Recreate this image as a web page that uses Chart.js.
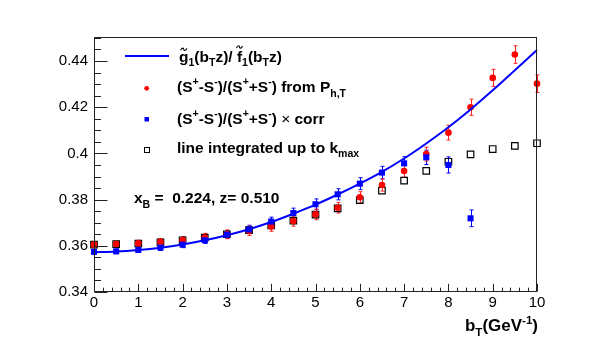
<!DOCTYPE html>
<html>
<head>
<meta charset="utf-8">
<script src="https://cdn.jsdelivr.net/npm/chart.js@4/dist/chart.umd.min.js"></script>
<style>
  body { margin: 0; background: #fff; }
  canvas { display: block; }
</style>
</head>
<body>
<canvas id="grafico" width="602" height="346"></canvas>
<script>
// valores
const bT = [0, 0.5, 1, 1.5, 2, 2.5, 3, 3.5, 4, 4.5, 5, 5.5, 6, 6.5, 7, 7.5, 8, 8.5, 9, 9.5, 10];
const curva = [0.3572, 0.3575, 0.3582, 0.3592, 0.3606, 0.3624, 0.3646, 0.3672, 0.3703, 0.3739, 0.3778,
               0.3822, 0.3869, 0.3920, 0.3978, 0.4043, 0.4113, 0.4190, 0.4273, 0.4360, 0.4448];
const fromPhT = [0.3605, 0.3608, 0.3611, 0.3617, 0.3624, 0.3636, 0.3650, 0.3665, 0.3684, 0.3707, 0.3736,
                 0.3765, 0.3810, 0.3863, 0.3924, 0.3997, 0.4090, 0.4200, 0.4327, 0.4428, 0.4302];
const fromPhTErr = [0.0011, 0.0012, 0.0013, 0.0014, 0.0016, 0.0018, 0.0019, 0.0020, 0.0021, 0.0022, 0.0023,
                    0.0023, 0.0024, 0.0026, 0.0027, 0.0030, 0.0032, 0.0035, 0.0037, 0.0038, 0.0038];
const bTcorr = [0, 0.5, 1, 1.5, 2, 2.5, 3, 3.5, 4, 4.5, 5, 5.5, 6, 6.5, 7, 7.5, 8, 8.5];
const corr = [0.3574, 0.3576, 0.3582, 0.3592, 0.3605, 0.3624, 0.3648, 0.3671, 0.3705, 0.3742, 0.3780,
              0.3823, 0.3869, 0.3917, 0.3957, 0.3983, 0.3950, 0.3719];
const corrErr = [0.0010, 0.0010, 0.0011, 0.0012, 0.0013, 0.0014, 0.0016, 0.0018, 0.0019, 0.0021, 0.0023,
                 0.0024, 0.0026, 0.0027, 0.0029, 0.0031, 0.0035, 0.0036];
const lineInt = [0.3605, 0.3607, 0.3610, 0.3615, 0.3624, 0.3635, 0.3650, 0.3668, 0.3688, 0.3709, 0.3735,
                 0.3762, 0.3798, 0.3839, 0.3882, 0.3924, 0.3964, 0.3996, 0.4019, 0.4033, 0.4044];
const xTicks = [0, 1, 2, 3, 4, 5, 6, 7, 8, 9, 10];
const yTicks = [0.34, 0.36, 0.38, 0.4, 0.42, 0.44];

const FONTE = '"Liberation Sans", Arial, sans-serif';

function pares(xs, ys) {
    return xs.map((x, i) => ({ x: x, y: ys[i] }));
}

// texto com indices (estilo ROOT)
function desenhaTexto(ctx, x, y, partes, tam, alinhar) {
    const medir = (p) => {
        const t = p[1] === 'sub' || p[1] === 'sup' ? tam * 0.68 : tam;
        const peso = p[1] === 'leve' ? '' : 'bold ';
        ctx.font = peso + t + 'px ' + FONTE;
        return ctx.measureText(p[0]).width;
    };
    let total = 0;
    partes.forEach(p => total += medir(p));
    if (alinhar === 'right') x -= total;
    ctx.fillStyle = '#000';
    ctx.textBaseline = 'alphabetic';
    ctx.textAlign = 'left';
    partes.forEach(p => {
        const w = medir(p);
        let dy = 0;
        if (p[1] === 'sub') dy = tam * 0.3;
        if (p[1] === 'sup') dy = -tam * 0.42;
        ctx.fillText(p[0], x, y + dy);
        if (p[1] === 'til' || p[1] === 'tilalto') {
            const cx = x + w / 2;
            const cy = y - tam * (p[1] === 'tilalto' ? 0.95 : 0.8);
            const a = tam * 0.2;
            ctx.save();
            ctx.strokeStyle = '#000';
            ctx.lineWidth = 1.1;
            ctx.beginPath();
            ctx.moveTo(cx - a, cy + 1);
            ctx.bezierCurveTo(cx - a / 2, cy - 2.5, cx, cy - 1, cx, cy);
            ctx.bezierCurveTo(cx, cy + 1, cx + a / 2, cy + 2.5, cx + a, cy - 1);
            ctx.stroke();
            ctx.restore();
        }
        x += w;
    });
}

const errorBars = {
    id: 'errorBars',
    beforeDatasetsDraw(chart) {
        const { ctx, scales: { x, y } } = chart;
        chart.data.datasets.forEach(ds => {
            if (!ds.erros) return;
            ctx.save();
            ctx.strokeStyle = ds.corErro;
            ctx.lineWidth = 1;
            ds.data.forEach((p, i) => {
                const px = Math.round(x.getPixelForValue(p.x)) + 0.5;
                const cima = y.getPixelForValue(p.y + ds.erros[i]);
                const baixo = y.getPixelForValue(p.y - ds.erros[i]);
                ctx.beginPath();
                ctx.moveTo(px, cima);
                ctx.lineTo(px, baixo);
                ctx.moveTo(px - 2, cima);
                ctx.lineTo(px + 2, cima);
                ctx.moveTo(px - 2, baixo);
                ctx.lineTo(px + 2, baixo);
                ctx.stroke();
            });
            ctx.restore();
        });
    }
};

const moldura = {
    id: 'moldura',
    afterDraw(chart) {
        const { ctx, chartArea: a, scales: { x, y } } = chart;
        ctx.save();
        ctx.strokeStyle = '#222';
        ctx.lineWidth = 1;
        const l = Math.round(a.left) + 0.5, r = Math.round(a.right) - 0.5;
        const t = Math.round(a.top) + 0.5, b = Math.round(a.bottom) - 0.5;
        ctx.strokeRect(l, t, r - l, b - t);
        ctx.beginPath();
        // marcas do eixo y, para dentro
        for (let k = 0; k <= 22; k++) {
            const v = 0.34 + k * 0.005;
            const py = Math.round(y.getPixelForValue(v)) + 0.5;
            const maior = k % 4 === 0;
            ctx.moveTo(l, py);
            ctx.lineTo(l + (maior ? 13 : 6.5), py);
        }
        // marcas do eixo x, para dentro
        for (let k = 0; k <= 50; k++) {
            const v = k * 0.2;
            const px = Math.round(x.getPixelForValue(v)) + 0.5;
            const maior = k % 5 === 0;
            ctx.moveTo(px, b);
            ctx.lineTo(px, b - (maior ? 7.7 : 3.8));
        }
        ctx.stroke();
        ctx.restore();

        // legenda
        ctx.save();
        ctx.strokeStyle = '#0000ff';
        ctx.lineWidth = 2;
        ctx.beginPath();
        ctx.moveTo(125, 56);
        ctx.lineTo(169, 56);
        ctx.stroke();
        ctx.fillStyle = '#ff0000';
        ctx.beginPath();
        ctx.arc(146.7, 88.3, 2.4, 0, Math.PI * 2);
        ctx.fill();
        ctx.fillStyle = '#0000ff';
        ctx.fillRect(144.5, 117, 4.5, 4.5);
        ctx.strokeStyle = '#000';
        ctx.lineWidth = 1;
        ctx.strokeRect(144.5, 147.5, 5, 5);
        ctx.restore();

        const T = 15.5;
        desenhaTexto(ctx, 179, 61.7, [['g', 'til'], ['1', 'sub'], ['(b', ''], ['T', 'sub'], ['z)/ ', ''],
            ['f', 'tilalto'], ['1', 'sub'], ['(b', ''], ['T', 'sub'], ['z)', '']], T);
        desenhaTexto(ctx, 177, 92, [['(S', ''], ['+', 'sup'], ['-S', ''], ['-', 'sup'], [')/(S', ''], ['+', 'sup'],
            ['+S', ''], ['-', 'sup'], [') from P', ''], ['h,T', 'sub']], T);
        desenhaTexto(ctx, 177, 123.5, [['(S', ''], ['+', 'sup'], ['-S', ''], ['-', 'sup'], [')/(S', ''], ['+', 'sup'],
            ['+S', ''], ['-', 'sup'], [') ', ''], ['\u00d7', 'leve'], [' corr', '']], T);
        desenhaTexto(ctx, 177, 152.5, [['line integrated up to k', ''], ['max', 'sub']], T);
        desenhaTexto(ctx, 134, 203, [['x', ''], ['B', 'sub'], [' =  0.224, z= 0.510', '']], T);
        desenhaTexto(ctx, 538, 331, [['b', ''], ['T', 'sub'], ['(GeV', ''], ['-1', 'sup'], [')', '']], 17, 'right');
    }
};

const ctx = document.getElementById('grafico');

new Chart(ctx, {
    type: 'scatter',
    data: {
        datasets: [
            {
                label: 'curva',
                data: pares(bT, curva),
                showLine: true,
                borderColor: '#0000ff',
                borderWidth: 2,
                pointRadius: 0,
                tension: 0.4,
                cubicInterpolationMode: 'monotone',
                clip: false
            },
            {
                label: 'corr',
                data: pares(bTcorr, corr),
                erros: corrErr,
                corErro: '#0000ff',
                pointStyle: 'rect',
                pointRadius: 4.3,
                backgroundColor: '#0000ff',
                borderWidth: 0,
                clip: false
            },
            {
                label: 'Ph,T',
                data: pares(bT, fromPhT),
                erros: fromPhTErr,
                corErro: '#ff2020',
                pointStyle: 'circle',
                pointRadius: 3.3,
                backgroundColor: '#ff0000',
                borderWidth: 0,
                clip: false
            },
            {
                label: 'kmax',
                data: pares(bT, lineInt),
                pointStyle: 'rect',
                pointRadius: 4.6,
                backgroundColor: 'rgba(0,0,0,0)',
                borderColor: '#000',
                borderWidth: 1.2,
                clip: false
            }
        ]
    },
    options: {
        responsive: false,
        animation: false,
        devicePixelRatio: 1,
        events: [],
        layout: { padding: { left: 0, top: 37, right: 65, bottom: 0 } },
        plugins: { legend: { display: false }, tooltip: { enabled: false } },
        scales: {
            x: {
                type: 'linear',
                min: 0,
                max: 10,
                afterFit: (s) => { s.height = 54; },
                afterBuildTicks: (s) => { s.ticks = xTicks.map(v => ({ value: v })); },
                grid: { display: false, drawTicks: false },
                border: { display: false },
                ticks: { padding: 2, color: '#000', font: { family: FONTE, size: 15 }, maxRotation: 0,
                         callback: (v) => String(v) }
            },
            y: {
                type: 'linear',
                min: 0.34,
                max: 0.4504,
                afterFit: (s) => { s.width = 94; },
                afterBuildTicks: (s) => { s.ticks = yTicks.map(v => ({ value: v })); },
                grid: { display: false, drawTicks: false },
                border: { display: false },
                ticks: { padding: 6, color: '#000', font: { family: FONTE, size: 15 },
                         callback: (v) => String(v) }
            }
        }
    },
    plugins: [errorBars, moldura]
});
</script>
</body>
</html>
